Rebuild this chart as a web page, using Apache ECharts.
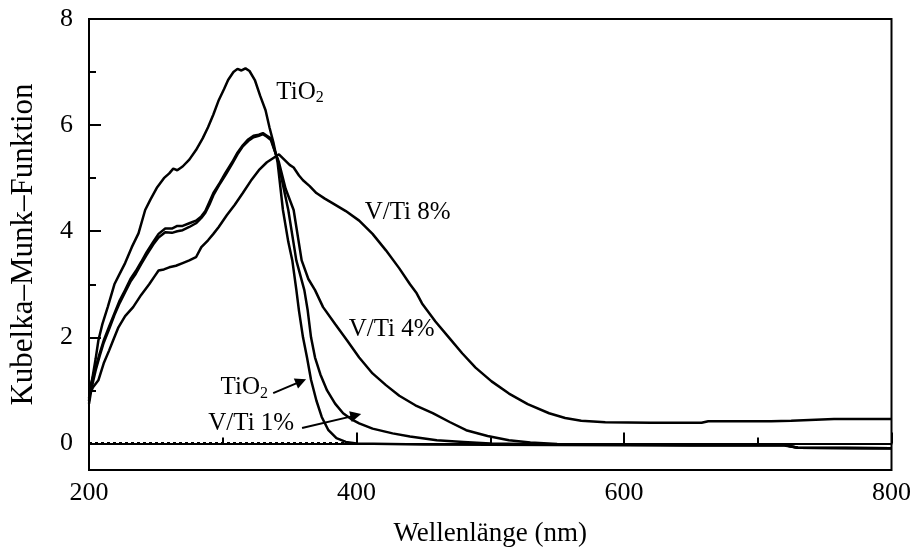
<!DOCTYPE html>
<html><head><meta charset="utf-8">
<script src="https://cdn.jsdelivr.net/npm/echarts@6/dist/echarts.min.js"></script>
<style>html,body{margin:0;padding:0;background:#fff}#c{width:914px;height:552px}</style>
</head><body><div id="c"></div>
<script>
// ---- data (wavelength in nm, Kubelka-Munk function) ----
const wlTiO2 = [200,202,205,207,210,214,219,223,227,232,237,242,246,251,256,260,263,266,270,275,280,285,289,293,297,301,304,308,311,314,317,320,324,328,332,335,338,341,345,349,352,355,357,360,363,366,370,374,379,385,392,400,450,550,650,720,730,800];
const kmTiO2 = [0.85,1.15,1.6,1.94,2.25,2.57,3.0,3.2,3.4,3.7,3.96,4.4,4.6,4.83,5.0,5.09,5.18,5.15,5.22,5.35,5.53,5.75,5.96,6.2,6.47,6.68,6.85,7.0,7.06,7.03,7.07,7.02,6.85,6.55,6.28,5.95,5.66,5.3,4.4,3.8,3.45,2.9,2.5,2.0,1.62,1.2,0.81,0.5,0.25,0.1,0.03,0.0,-0.02,-0.03,-0.04,-0.04,-0.08,-0.09];

const wlVTi1 = [200,201.5,205,208,211,215,219,223,227,231,235,239,243,248,252,257,262,266,270,275,280,284,287,290,293,298,302,307,311,315,319,323,327,330,333,336,341,349,355,361,363.5,366,369,373,378,384,390,396,402,412,427,440,460,480,500,550,650,720,730,800];
const kmVTi1 = [0.8,1.13,1.43,1.7,1.94,2.2,2.45,2.7,2.89,3.1,3.25,3.42,3.6,3.8,3.95,4.05,4.05,4.1,4.1,4.15,4.2,4.28,4.38,4.55,4.72,4.92,5.1,5.3,5.48,5.62,5.73,5.8,5.82,5.85,5.8,5.75,5.35,4.4,3.45,2.89,2.51,2.0,1.62,1.3,1.0,0.75,0.57,0.46,0.38,0.28,0.19,0.13,0.06,0.03,0.0,-0.02,-0.03,-0.03,-0.08,-0.09];

const wlVTi4 = [200,202,205,208,211,215,219,223,227,231,235,239,243,248,252,257,262,266,270,275,280,284,287,290,293,298,302,307,311,315,319,323,327,330,333,336,339,342,347,353,359,364,369,375,384,393,402,412,422,432,444,457,470,482,498,514,530,550,650,720,730,800];
const kmVTi4 = [0.75,1.05,1.38,1.65,1.9,2.15,2.42,2.65,2.85,3.05,3.2,3.38,3.55,3.75,3.88,3.98,3.97,4.0,4.02,4.08,4.15,4.25,4.35,4.5,4.68,4.9,5.06,5.27,5.45,5.6,5.7,5.77,5.8,5.83,5.78,5.72,5.5,5.3,4.8,4.4,3.45,3.1,2.89,2.57,2.25,1.94,1.62,1.32,1.1,0.9,0.72,0.57,0.4,0.25,0.14,0.06,0.02,-0.01,-0.03,-0.03,-0.08,-0.09];

const wlVTi8 = [200,203,207,211,215,218,222,227,233,239,245,249,252,256,260,265,270,275,280,284,289,293,297,303,309,315,321,327,333,339,342,346,350,353,357,360,365,370,376,382,392,402,412,422,432,440,445,449,459,469,479,489,501,514,528,544,556,568,586,620,658,663,710,725,757,800];
const kmVTi8 = [0.9,1.06,1.19,1.51,1.75,1.94,2.19,2.4,2.57,2.8,3.0,3.15,3.26,3.28,3.32,3.35,3.4,3.45,3.51,3.7,3.83,3.95,4.08,4.3,4.5,4.72,4.95,5.15,5.3,5.4,5.45,5.35,5.25,5.2,5.05,4.96,4.85,4.72,4.62,4.53,4.38,4.2,3.95,3.64,3.3,3.0,2.83,2.64,2.3,2.0,1.7,1.43,1.17,0.94,0.74,0.57,0.48,0.43,0.4,0.39,0.39,0.42,0.42,0.43,0.46,0.46];

const baselineWl = [200,398];
const baselineKm = [0,0];

const xTicks = [200,400,600,800];
const yLabels = [0,2,4,6,8];
const yMinor = [1,3,5,7];

const annoText = ['TiO{s|2}','V/Ti 8%','V/Ti 4%','TiO{s|2}','V/Ti 1%'];
const annoWl = [357.8,438.2,426.3,316.1,321.3];
const annoKm = [6.62,4.36,2.14,1.05,0.37];

const arrowFromWl = [337.7,359.3];
const arrowFromKm = [0.95,0.29];
const arrowToWl = [358.5,399.5];
const arrowToKm = [1.17,0.53];

// ---- chart ----
const FONT = '"Liberation Serif", "Times New Roman", serif';
const zip = (a,b) => a.map((v,i)=>[v,b[i]]);
const curve = (name, wl, km) => ({
  name, type:'line', data: zip(wl, km), showSymbol:false, symbol:'none',
  lineStyle:{color:'#000', width:2.5}, silent:true, animation:false, z:3
});

const chart = echarts.init(document.getElementById('c'), null, {renderer:'canvas'});
chart.setOption({
  backgroundColor:'#fff',
  animation:false,
  grid:{left:88, right:20, top:19, bottom:82, show:true, borderColor:'#000', borderWidth:2, backgroundColor:'transparent'},
  xAxis:{
    type:'value', min:200, max:800, interval:200,
    axisLine:{lineStyle:{color:'#000', width:2}},
    axisTick:{inside:true, length:11, lineStyle:{color:'#000', width:2}},
    minorTick:{show:true, splitNumber:2, length:6, lineStyle:{color:'#000', width:2}},
    splitLine:{show:false}, minorSplitLine:{show:false},
    axisLabel:{fontFamily:FONT, fontSize:26, color:'#000', margin:10},
    name:'Wellenlänge (nm)', nameLocation:'middle', nameGap:50,
    nameTextStyle:{fontFamily:FONT, fontSize:27, color:'#000'}
  },
  yAxis:[{
    type:'value', min:-0.5, max:8, position:'left',
    axisLine:{lineStyle:{color:'#000', width:2}},
    axisTick:{inside:true, length:12, customValues:yLabels, lineStyle:{color:'#000', width:2}},
    axisLabel:{fontFamily:FONT, fontSize:26, color:'#000', margin:16, customValues:yLabels, padding:[14,0,0,0]},
    splitLine:{show:false},
    name:'Kubelka–Munk–Funktion', nameLocation:'middle', nameGap:50,
    nameTextStyle:{fontFamily:FONT, fontSize:31, color:'#000'}
  },{
    type:'value', min:-0.5, max:8, position:'left', offset:0,
    axisLine:{show:false},
    axisTick:{inside:true, length:7, customValues:yMinor, lineStyle:{color:'#000', width:2}},
    axisLabel:{show:false}, splitLine:{show:false}
  }],
  series:[
    {name:'baseline', type:'line', data:zip(baselineWl, baselineKm), showSymbol:false, symbol:'none',
     lineStyle:{color:'#000', width:3, type:[3,3], cap:'butt'}, silent:true, z:4},
    curve('TiO2', wlTiO2, kmTiO2),
    curve('V/Ti 1%', wlVTi1, kmVTi1),
    curve('V/Ti 4%', wlVTi4, kmVTi4),
    curve('V/Ti 8%', wlVTi8, kmVTi8),
    {name:'labels', type:'scatter', symbolSize:0, silent:true, z:5,
     itemStyle:{color:'#000', opacity:1},
     data: annoText.map((t,i)=>({value:[annoWl[i], annoKm[i]], label:{formatter:t}})),
     label:{show:true, position:'inside', color:'#000', opacity:1, textBorderWidth:0, fontFamily:FONT, fontSize:25,
       rich:{s:{fontFamily:FONT, fontSize:16, color:'#000', textBorderWidth:0, padding:[12,0,0,0]}}}},
    {name:'arrows', type:'lines', coordinateSystem:'cartesian2d', silent:true, z:5,
     symbol:['none','triangle'], symbolSize:11,
     lineStyle:{color:'#000', width:2, opacity:1, curveness:0},
     data: arrowFromWl.map((w,i)=>({coords:[[w, arrowFromKm[i]],[arrowToWl[i], arrowToKm[i]]]}))}
  ]
});
</script>
</body></html>
